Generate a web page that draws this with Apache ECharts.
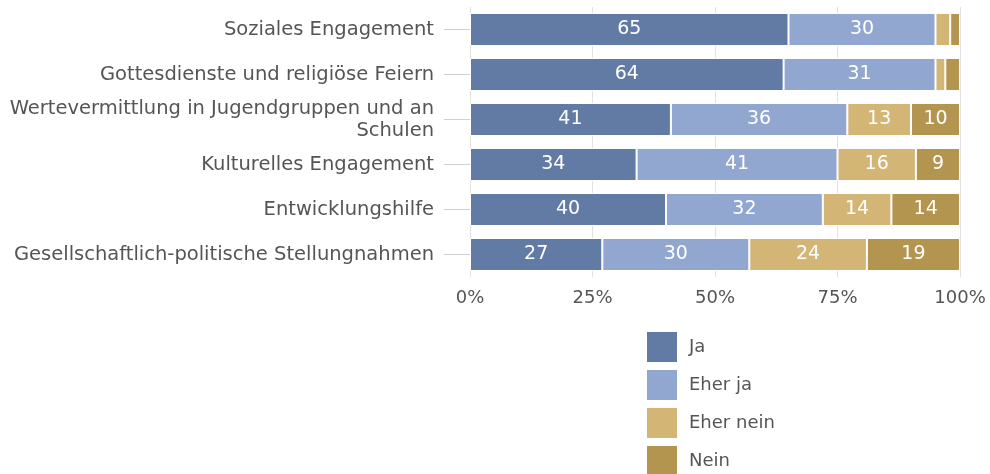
<!DOCTYPE html>
<html><head><meta charset="utf-8">
<script src="https://cdn.jsdelivr.net/npm/echarts@6/dist/echarts.min.js"></script>
<style>html,body{margin:0;padding:0;background:#fff}#c{width:990px;height:474px}</style>
</head><body><div id="c"></div>
<script>
var categories = [
  'Soziales Engagement',
  'Gottesdienste und religiöse Feiern',
  'Wertevermittlung in Jugendgruppen und an\nSchulen',
  'Kulturelles Engagement',
  'Entwicklungshilfe',
  'Gesellschaftlich-politische Stellungnahmen'
];
var seriesNames = ['Ja', 'Eher ja', 'Eher nein', 'Nein'];
var ja = [65, 64, 41, 34, 40, 27];
var eherJa = [30, 31, 36, 41, 32, 30];
var eherNein = [3, 2, 13, 16, 14, 24];
var nein = [2, 3, 10, 9, 14, 19];
var xTicks = [0, 25, 50, 75, 100];
var colors = ['#617ba5', '#91a7d0', '#d3b675', '#b39550'];

var FONT = 'DejaVu Sans';
var values = [ja, eherJa, eherNein, nein];
var chart = echarts.init(document.getElementById('c'));
chart.setOption({
  animation: false,
  textStyle: { fontFamily: FONT },
  grid: { left: 470, right: 30, top: 7, height: 270 },
  legend: {
    orient: 'vertical', left: 640, top: 325, height: 170, padding: 5,
    itemWidth: 32, itemHeight: 32, itemGap: 4,
    icon: 'rect',
    textStyle: { fontSize: 18, color: '#555', fontFamily: FONT, padding: [0,0,0,6] },
    data: seriesNames
  },
  xAxis: {
    type: 'value', min: xTicks[0], max: xTicks[xTicks.length-1], interval: 25,
    axisLine: { show: false }, axisTick: { show: false },
    splitLine: { show: true, lineStyle: { color: '#e2e2e2', width: 1 } },
    axisLabel: { formatter: '{value}%', fontSize: 18, color: '#555', margin: 12, fontFamily: FONT }
  },
  yAxis: {
    type: 'category', data: categories, inverse: true,
    axisLine: { show: false },
    axisTick: { show: true, alignWithLabel: true, length: 26, lineStyle: { color: '#d0d0d0' } },
    axisLabel: { fontSize: 19.5, color: '#555', margin: 36, lineHeight: 22, fontFamily: FONT, align: 'right', padding: [3, 0, 0, 0] }
  },
  series: values.map(function (v, i) {
    return {
      name: seriesNames[i], type: 'bar', stack: 'all', data: v,
      barWidth: 33,
      itemStyle: { color: colors[i], borderColor: '#fff', borderWidth: 1 },
      label: {
        show: true, position: 'inside', color: '#fff', fontSize: 19, fontFamily: FONT,
        formatter: function (p) { return p.value >= 5 ? p.value : ''; }
      }
    };
  })
});
</script></body></html>
